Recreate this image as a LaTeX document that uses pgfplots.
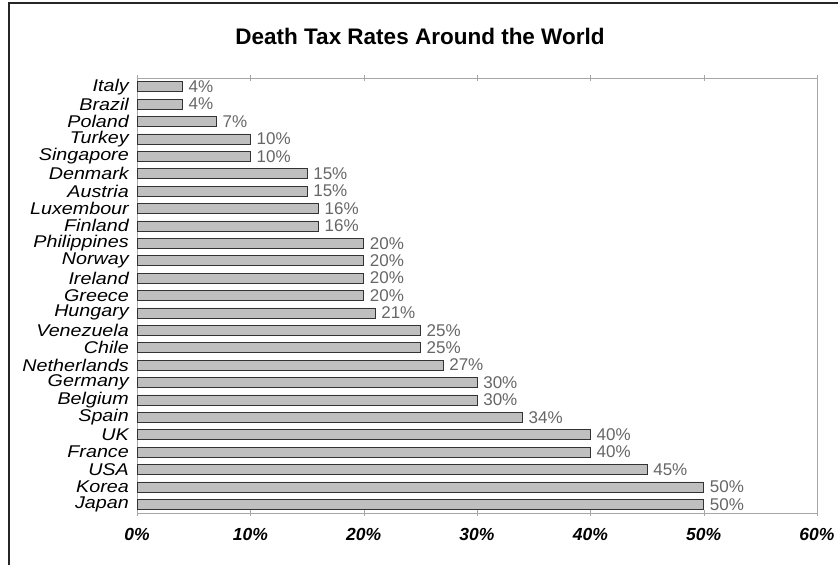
\documentclass[border=0pt]{standalone}
\usepackage{pgfplots}
\pgfplotsset{compat=1.18}
\usepackage{fontspec}
\setmainfont{Liberation Sans}
\newfontfamily\widefont[FakeStretch=1.16]{Liberation Sans}
\begin{document}
\begin{tikzpicture}[x=1pt,y=1pt]
\path[use as bounding box] (0,0) rectangle (838,565);
\draw[black!85, line width=1.2pt] (9,0) -- (9,562) -- (838,562);
\node[font=\fontsize{22.5}{22.5}\selectfont\bfseries] at (420,529) {Death Tax Rates Around the World};
\begin{axis}[
  at={(137pt,52pt)}, anchor=south west,
  scale only axis, width=680pt, height=435pt,
  xbar, bar width=10pt,
  xmin=0, xmax=60, ymin=-0.5, ymax=24.5,
  axis line style={draw=gray!70, line width=0.8pt},
  ytick={0,...,24},
  yticklabels={Japan,Korea,USA,France,UK,Spain,Belgium,Germany,Netherlands,Chile,Venezuela,Hungary,Greece,Ireland,Norway,Philippines,Finland,Luxembour,Austria,Denmark,Singapore,Turkey,Poland,Brazil,Italy},
  y tick label style={font=\widefont\fontsize{17}{16}\selectfont\itshape, inner sep=0pt, xshift=-5pt},
  major y tick style={draw=none},
  extra y ticks={-0.5,0.5,...,24.5},
  extra y tick labels={},
  extra y tick style={tick align=outside, major tick length=4pt, tick style={draw=gray!70}},
  xtick={0,10,...,60},
  xticklabel={\pgfmathprintnumber{\tick}\%},
  /pgf/number format/assume math mode=true,
  x tick label style={font=\fontsize{17.5}{17.5}\selectfont\bfseries\itshape, yshift=-9pt},
  x tick style={draw=gray!70},
  tick align=center, major tick length=6pt,
  nodes near coords={\pgfmathprintnumber{\pgfplotspointmeta}\%},
  point meta=x,
  every node near coord/.append style={font=\fontsize{17}{17}\selectfont, text=black!60, anchor=west, xshift=5pt, inner sep=1pt},
  clip=false,
]
\addplot[fill=gray!50, draw=black!80, line width=0.6pt] coordinates {
(50,0) (50,1) (45,2) (40,3) (40,4) (34,5) (30,6) (30,7) (27,8) (25,9) (25,10) (21,11) (20,12) (20,13) (20,14) (20,15) (16,16) (16,17) (15,18) (15,19) (10,20) (10,21) (7,22) (4,23) (4,24)
};
\end{axis}
\end{tikzpicture}
\end{document}
